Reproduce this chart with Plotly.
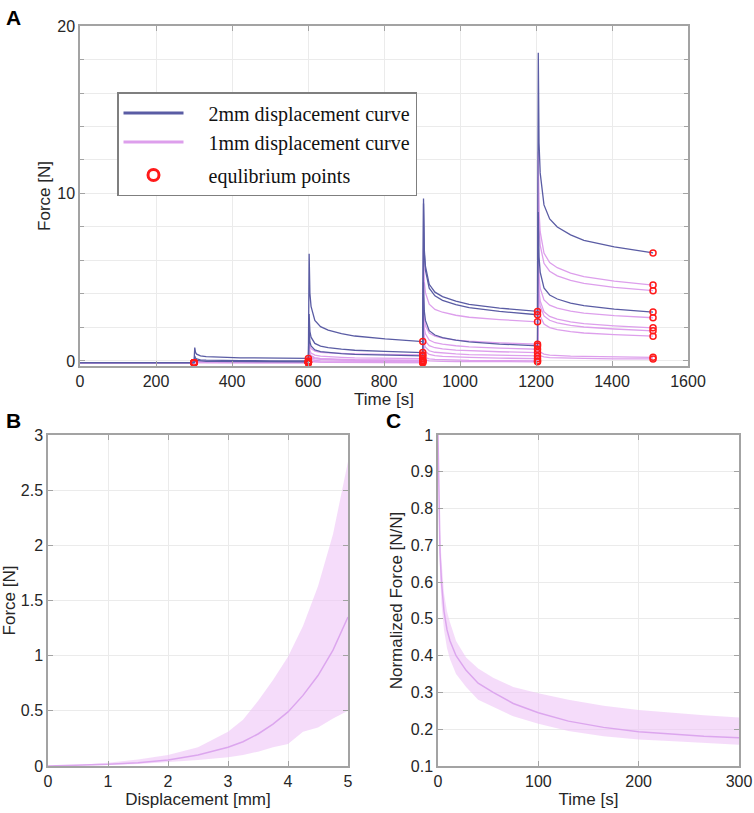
import plotly.graph_objects as go

# ---- panel A: stress relaxation steps ----
t_a = [0, 300,
       302, 304, 307, 317, 332, 352, 387, 422, 502, 601,
       603, 605, 608, 618, 633, 653, 688, 723, 803, 902,
       904, 906, 909, 919, 934, 954, 989, 1024, 1104, 1204,
       1206, 1208, 1211, 1221, 1236, 1256, 1291, 1326, 1406, 1508]

# 2mm curves
b1 = [-0.1, -0.1,
      0.8, 0.51, 0.41, 0.31, 0.26, 0.23, 0.21, 0.19, 0.17, 0.15,
      6.4, 4.04, 3.26, 2.42, 2.05, 1.84, 1.63, 1.49, 1.32, 1.16,
      9.7, 6.67, 5.66, 4.58, 4.11, 3.84, 3.57, 3.38, 3.16, 2.96,
      18.4, 13.02, 11.23, 9.32, 8.48, 8.0, 7.53, 7.2, 6.81, 6.45]
b2 = [-0.1, -0.1,
      0.3, 0.17, 0.12, 0.07, 0.05, 0.04, 0.03, 0.02, 0.01, 0.0,
      2.8, 1.77, 1.42, 1.05, 0.89, 0.80, 0.71, 0.64, 0.57, 0.5,
      9.4, 6.41, 5.42, 4.35, 3.89, 3.62, 3.36, 3.18, 2.96, 2.76,
      None, None, None, None, None, None, None, None, None, None]
b3 = [-0.1, -0.1,
      0.15, 0.06, 0.03, 0.0, -0.02, -0.02, -0.03, -0.04, -0.04, -0.05,
      1.8, 1.13, 0.9, 0.66, 0.56, 0.5, 0.44, 0.39, 0.35, 0.3,
      4.7, 2.99, 2.42, 1.81, 1.55, 1.39, 1.24, 1.14, 1.01, 0.9,
      8.9, 6.21, 5.31, 4.36, 3.94, 3.7, 3.46, 3.3, 3.10, 2.92]

# 1mm curves
p1 = [-0.1, -0.1,
      0.1, 0.03, 0.01, -0.01, -0.02, -0.03, -0.04, -0.04, -0.05, -0.05,
      1.3, 0.88, 0.74, 0.59, 0.52, 0.48, 0.44, 0.42, 0.39, 0.36,
      6.7, 4.74, 4.08, 3.39, 3.08, 2.91, 2.73, 2.61, 2.47, 2.34,
      12.5, 8.91, 7.72, 6.44, 5.88, 5.57, 5.25, 5.03, 4.77, 4.53]
p2 = [-0.1, -0.1,
      0.05, -0.01, -0.03, -0.05, -0.06, -0.06, -0.07, -0.07, -0.08, -0.08,
      1.0, 0.61, 0.48, 0.35, 0.29, 0.25, 0.22, 0.19, 0.17, 0.14,
      3.8, 2.54, 2.12, 1.67, 1.48, 1.36, 1.25, 1.18, 1.08, 1.0,
      11.0, 7.94, 6.92, 5.83, 5.36, 5.08, 4.81, 4.63, 4.40, 4.2]
p3 = [-0.1, -0.1,
      0.05, -0.01, -0.03, -0.05, -0.06, -0.06, -0.07, -0.07, -0.08, -0.08,
      0.8, 0.44, 0.32, 0.19, 0.14, 0.10, 0.07, 0.05, 0.02, 0.0,
      3.0, 1.97, 1.62, 1.25, 1.09, 1.0, 0.91, 0.84, 0.77, 0.7,
      7.0, 5.01, 4.35, 3.64, 3.33, 3.15, 2.98, 2.86, 2.71, 2.58]
p4 = [-0.1, -0.1,
      0.05, -0.01, -0.03, -0.05, -0.06, -0.06, -0.07, -0.07, -0.08, -0.08,
      0.6, 0.35, 0.27, 0.18, 0.14, 0.12, 0.10, 0.08, 0.07, 0.05,
      2.2, 1.44, 1.18, 0.91, 0.79, 0.72, 0.65, 0.61, 0.55, 0.5,
      6.0, 4.19, 3.59, 2.94, 2.66, 2.5, 2.34, 2.23, 2.10, 1.98]
p5 = [-0.1, -0.1,
      0.0, -0.05, -0.06, -0.08, -0.08, -0.09, -0.09, -0.1, -0.1, -0.1,
      0.5, 0.28, 0.2, 0.12, 0.09, 0.07, 0.05, 0.03, 0.02, 0.0,
      1.6, 1.02, 0.82, 0.61, 0.52, 0.47, 0.42, 0.38, 0.34, 0.3,
      5.5, 3.84, 3.28, 2.69, 2.43, 2.28, 2.13, 2.03, 1.91, 1.8]
p6 = [-0.1, -0.1,
      0.0, -0.05, -0.06, -0.08, -0.08, -0.09, -0.09, -0.1, -0.1, -0.1,
      0.3, 0.14, 0.09, 0.03, 0.01, 0.0, -0.02, -0.03, -0.04, -0.05,
      1.2, 0.72, 0.56, 0.39, 0.32, 0.28, 0.24, 0.21, 0.17, 0.14,
      4.5, 3.14, 2.69, 2.2, 1.99, 1.87, 1.75, 1.67, 1.57, 1.48]
p7 = [-0.1, -0.1,
      -0.05, -0.08, -0.09, -0.1, -0.1, -0.1, -0.1, -0.1, -0.1, -0.1,
      0.1, 0.01, -0.02, -0.05, -0.07, -0.07, -0.08, -0.09, -0.09, -0.1,
      0.5, 0.28, 0.2, 0.12, 0.09, 0.07, 0.05, 0.03, 0.02, 0.0,
      1.0, 0.65, 0.53, 0.41, 0.35, 0.32, 0.29, 0.27, 0.24, 0.22]
p8 = [-0.1, -0.1,
      -0.08, -0.09, -0.1, -0.1, -0.1, -0.1, -0.1, -0.1, -0.1, -0.1,
      0.05, -0.02, -0.04, -0.06, -0.07, -0.08, -0.09, -0.09, -0.1, -0.1,
      0.2, 0.09, 0.05, 0.01, -0.01, -0.02, -0.03, -0.03, -0.04, -0.05,
      0.6, 0.38, 0.31, 0.24, 0.20, 0.18, 0.16, 0.15, 0.13, 0.12]

curves_2mm = [b1, b2, b3]
curves_1mm = [p1, p2, p3, p4, p5, p6, p7, p8]
eq_idx = [1, 11, 21, 31, 41]   # last sample of each hold

# ---- panel B: force vs displacement ----
disp_b = [0, 0.5, 1, 1.5, 2, 2.5, 3, 3.25, 3.5, 3.75, 4, 4.25, 4.5, 4.75, 5]
force_b_mean = [0, 0.005, 0.015, 0.03, 0.055, 0.1, 0.17, 0.22, 0.29, 0.38, 0.49, 0.64, 0.82, 1.05, 1.35]
force_b_up = [0, 0.01, 0.03, 0.06, 0.1, 0.17, 0.31, 0.42, 0.59, 0.78, 0.99, 1.27, 1.63, 2.1, 2.76]
force_b_lo = [0, 0.002, 0.008, 0.017, 0.035, 0.055, 0.08, 0.1, 0.13, 0.17, 0.2, 0.31, 0.35, 0.43, 0.5]

# ---- panel C: normalized relaxation ----
time_c = [0, 1, 2, 3.5, 6, 9, 12, 18, 28, 40, 55, 75, 100, 130, 165, 200, 235, 265, 300]
norm_mean = [1.0, 0.8, 0.68, 0.6, 0.52, 0.47, 0.44, 0.4, 0.36, 0.325, 0.3, 0.27, 0.245, 0.222, 0.205, 0.193, 0.186, 0.181, 0.177]
norm_up = [1.0, 0.84, 0.74, 0.66, 0.57, 0.52, 0.49, 0.44, 0.395, 0.365, 0.34, 0.315, 0.298, 0.28, 0.264, 0.252, 0.244, 0.238, 0.232]
norm_lo = [1.0, 0.75, 0.62, 0.54, 0.47, 0.42, 0.39, 0.35, 0.315, 0.28, 0.26, 0.235, 0.215, 0.195, 0.181, 0.172, 0.167, 0.162, 0.158]

blue = "#5A5CA4"
pink = "#DD9FEC"
band = "rgba(238,196,246,0.6)"
band_line = "#DCA6EE"
red = "#FF1A1A"

fig = go.Figure()

for c in curves_1mm:
    fig.add_trace(go.Scatter(x=t_a, y=c, mode="lines", line=dict(color=pink, width=1.3),
                             showlegend=False, connectgaps=False))
for c in curves_2mm:
    fig.add_trace(go.Scatter(x=t_a, y=c, mode="lines", line=dict(color=blue, width=1.3),
                             showlegend=False, connectgaps=False))

eq_t, eq_f = [], []
for c in curves_1mm + curves_2mm:
    for i in eq_idx:
        if c[i] is not None:
            eq_t.append(t_a[i])
            eq_f.append(c[i])
fig.add_trace(go.Scatter(x=eq_t, y=eq_f, mode="markers", showlegend=False,
                         marker=dict(symbol="circle-open", size=6, color=red, line=dict(width=1.5))))

# legend-only entries
sp = "\u00a0\u00a0\u00a0\u00a0"
fig.add_trace(go.Scatter(x=[None], y=[None], mode="lines", name=sp + "2mm displacement curve",
                         line=dict(color=blue, width=3), legendgroup="lines"))
fig.add_trace(go.Scatter(x=[None], y=[None], mode="lines", name=sp + "1mm displacement curve",
                         line=dict(color=pink, width=3), legendgroup="lines"))
fig.add_trace(go.Scatter(x=[None], y=[None], mode="markers", name=sp + "equlibrium points",
                         marker=dict(symbol="circle-open", size=11, color=red, line=dict(width=3)),
                         legendgroup="pts"))

# panel B
fig.add_trace(go.Scatter(x=disp_b, y=force_b_lo, mode="lines", line=dict(width=0),
                         showlegend=False, xaxis="x2", yaxis="y2"))
fig.add_trace(go.Scatter(x=disp_b, y=force_b_up, mode="lines", line=dict(width=0), fill="tonexty",
                         fillcolor=band, showlegend=False, xaxis="x2", yaxis="y2"))
fig.add_trace(go.Scatter(x=disp_b, y=force_b_mean, mode="lines", line=dict(color=band_line, width=1.5),
                         showlegend=False, xaxis="x2", yaxis="y2"))

# panel C
fig.add_trace(go.Scatter(x=time_c, y=norm_lo, mode="lines", line=dict(width=0),
                         showlegend=False, xaxis="x3", yaxis="y3"))
fig.add_trace(go.Scatter(x=time_c, y=norm_up, mode="lines", line=dict(width=0), fill="tonexty",
                         fillcolor=band, showlegend=False, xaxis="x3", yaxis="y3"))
fig.add_trace(go.Scatter(x=time_c, y=norm_mean, mode="lines", line=dict(color=band_line, width=1.5),
                         showlegend=False, xaxis="x3", yaxis="y3"))

W, H = 754, 813
sans = "Liberation Sans, Arial, sans-serif"
tick_font = dict(family=sans, size=16, color="#262626")
title_font = dict(family=sans, size=17, color="#262626")


def ax(**kw):
    base = dict(showline=True, linecolor="#A3A3A3", linewidth=1.5, mirror="ticks",
                ticks="inside", ticklen=5, tickcolor="#A3A3A3", showgrid=True,
                gridcolor="#EBEBEB", zeroline=False, tickfont=tick_font, title_font=title_font,
                automargin=False)
    base.update(kw)
    return base


fig.update_layout(
    width=W, height=H,
    margin=dict(l=0, r=0, t=0, b=0),
    paper_bgcolor="white", plot_bgcolor="white",
    xaxis=ax(domain=[80 / W, 688 / W], anchor="y", range=[0, 1600], dtick=200,
             title=dict(text="Time [s]", standoff=0)),
    yaxis=ax(domain=[1 - 366 / H, 1 - 26 / H], anchor="x", range=[-0.3, 20], dtick=10,
             minor=dict(dtick=2, showgrid=True, gridcolor="#EBEBEB", ticks="inside",
                        ticklen=4, tickcolor="#A3A3A3"),
             title=dict(text="Force [N]", standoff=2)),
    xaxis2=ax(domain=[48 / W, 348 / W], anchor="y2", range=[0, 5], dtick=1,
              title=dict(text="Displacement [mm]", standoff=4)),
    yaxis2=ax(domain=[1 - 766 / H, 1 - 435 / H], anchor="x2", range=[0, 3], dtick=0.5,
              title=dict(text="Force [N]", standoff=6)),
    xaxis3=ax(domain=[438 / W, 739 / W], anchor="y3", range=[0, 300], dtick=100,
              title=dict(text="Time [s]", standoff=4)),
    yaxis3=ax(domain=[1 - 766 / H, 1 - 435 / H], anchor="x3", range=[0.1, 1], dtick=0.1,
              title=dict(text="Normalized Force [N/N]", standoff=4)),
    legend=dict(x=117 / W, y=1 - 92 / H, xanchor="left", yanchor="top",
                bgcolor="white", bordercolor="#7F7F7F", borderwidth=1.5,
                font=dict(family="Liberation Serif, Times New Roman, serif", size=20, color="#111111"),
                itemwidth=60, tracegroupgap=4, traceorder="grouped"),
    annotations=[
        dict(text="<b>A</b>", x=4 / W, y=1 - 4 / H, xref="paper", yref="paper",
             xanchor="left", yanchor="top", showarrow=False, font=dict(family=sans, size=21, color="black")),
        dict(text="<b>B</b>", x=4 / W, y=1 - 407 / H, xref="paper", yref="paper",
             xanchor="left", yanchor="top", showarrow=False, font=dict(family=sans, size=21, color="black")),
        dict(text="<b>C</b>", x=384 / W, y=1 - 407 / H, xref="paper", yref="paper",
             xanchor="left", yanchor="top", showarrow=False, font=dict(family=sans, size=21, color="black")),
    ],
)

fig.write_html("out.html", config={"displayModeBar": False},
               post_script="document.body.style.margin='0';document.body.style.overflow='hidden';")
